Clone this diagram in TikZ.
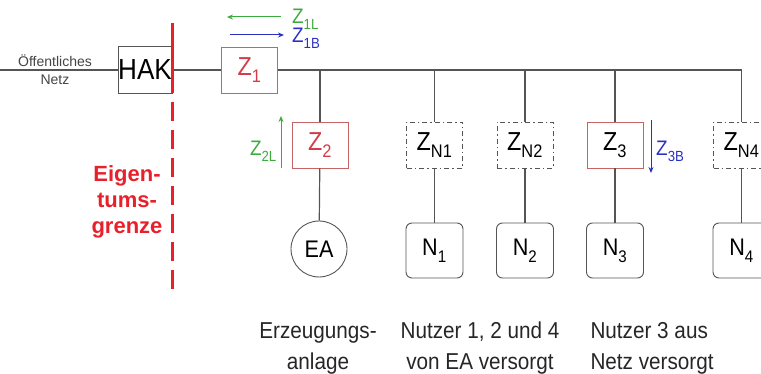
\documentclass[tikz,border=0pt]{standalone}
\usepackage{fontspec}
\setmainfont{Liberation Sans}[FakeStretch=0.9]
\newfontfamily\widefont{Liberation Sans}
\usetikzlibrary{arrows.meta}

\definecolor{netgray}{HTML}{555555}
\definecolor{zred}{HTML}{C46464}
\definecolor{textred}{HTML}{D23C46}
\definecolor{grenzred}{HTML}{E8202C}
\definecolor{zgreen}{HTML}{3CAA3C}
\definecolor{zblue}{HTML}{2A30C4}
\newcommand{\Zsub}[1]{Z\textsubscript{\raisebox{-0.2em}{#1}}}
\newcommand{\fs}[2]{\fontsize{#1}{#2}\selectfont}

\begin{document}
\begin{tikzpicture}[x=1pt,y=-1pt]
\clip (0,0) rectangle (761,374);

% Zaehler
\begin{scope}[every node/.style={draw=netgray,line width=0.9pt,minimum width=56pt,
              minimum height=46pt,inner sep=0pt,font=\fs{26}{26}}]
    \node (hak) at (145,70) [minimum width=54pt,minimum height=47pt,font=\fs{29}{29}] {HAK};
    \node (z1) at (249.5,70) [draw=zred,text=textred] {\Zsub{1}};
    \node (z2) at (320,145) [draw=zred,text=textred] {\Zsub{2}};
    \node (zn1) at (434.5,145) [dash pattern=on 5pt off 3pt on 1.5pt off 3pt] {\Zsub{N1}};
    \node (zn2) at (525,145) [dash pattern=on 5pt off 3pt on 1.5pt off 3pt] {\Zsub{N2}};
    \node (z3) at (615,145) [draw=zred] {\Zsub{3}};
    \node (zn4) at (741.5,145) [dash pattern=on 5pt off 3pt on 1.5pt off 3pt] {\Zsub{N4}};
\end{scope}

% Anlage und Nutzer
\begin{scope}[every node/.style={draw=netgray,line width=0.9pt,rounded corners=6pt,
              minimum width=57pt,minimum height=55pt,inner sep=0pt,font=\fs{24}{24}}]
    \node (ea) at (319,249) [circle,minimum size=56pt] {EA};
    \node (n1) at (434.5,250.5) {N\textsubscript{\raisebox{-0.2em}{1}}};
    \node (n2) at (525,250.5) {N\textsubscript{\raisebox{-0.2em}{2}}};
    \node (n3) at (615,250.5) {N\textsubscript{\raisebox{-0.2em}{3}}};
    \node (n4) at (741.5,250.5) {N\textsubscript{\raisebox{-0.2em}{4}}};
\end{scope}

\coordinate (netz) at (0,70);
\draw[netgray,line width=1.2pt] (netz) -- (hak.west) (hak.east) -- (z1.west)
    (z1.east) -| (zn4.north);
\draw[netgray,line width=1.2pt] (z2.north |- z1.east) -- (z2.north)
    (zn1.north |- z1.east) -- (zn1.north)
    (zn2.north |- z1.east) -- (zn2.north)
    (z3.north |- z1.east) -- (z3.north);
\foreach \a/\b in {z2/ea, zn1/n1, zn2/n2, z3/n3, zn4/n4}
    \draw[netgray,line width=1.2pt] (\a) -- (\b);

% Eigentumsgrenze
\coordinate (grenzeTop) at (172,23);
\coordinate (grenzeMid) at (172,93);
\coordinate (grenzeBot) at (172,292);
\draw[grenzred,line width=3pt] (grenzeTop) -- (grenzeMid);
\draw[grenzred,line width=3pt,dash pattern=on 19pt off 9pt,dash phase=19pt]
    (grenzeMid) -- (grenzeBot);
\node (grenze) at (127,202) [align=center,text=grenzred,font=\widefont\fs{22}{26}\bfseries]
    {Eigen-\\tums-\\grenze};

\node (oeffnetz) at (55,70) [align=center,font=\widefont\fs{14}{18},
    text=netgray!80!black] {Öffentliches\\Netz};

% Energiefluss
\coordinate (z1lA) at (281,17);
\coordinate (z1lB) at (227,17);
\coordinate (z1bA) at (230,35);
\coordinate (z1bB) at (284,35);
\coordinate (z2lA) at (281,168);
\coordinate (z2lB) at (281,116);
\coordinate (z3bA) at (651,120);
\coordinate (z3bB) at (651,173);
\begin{scope}[line width=1pt, >={Stealth[length=6pt,width=5pt]}]
    \path [->] (z1lA) edge[zgreen] (z1lB);
    \path [->] (z1bA) edge[zblue] (z1bB);
    \path [->] (z2lA) edge[zgreen] (z2lB);
    \path [->] (z3bA) edge[zblue] (z3bB);
\end{scope}
\begin{scope}[every node/.style={font=\fs{21}{21},inner sep=0pt}]
    \node (z1l) at (292,19) [anchor=west,text=zgreen] {\Zsub{1L}};
    \node (z1b) at (292,38) [anchor=west,text=zblue] {\Zsub{1B}};
    \node (z2l) at (277,151) [anchor=east,text=zgreen] {\Zsub{2L}};
    \node (z3b) at (656,151) [anchor=west,text=zblue] {\Zsub{3B}};
\end{scope}

% Beschriftung
\begin{scope}[every node/.style={font=\fs{23}{31},text=black!85}]
    \node (txtea) at (318,348) [align=center] {Erzeugungs-\\anlage};
    \node (txtn) at (480,348) [align=center] {Nutzer 1, 2 und 4\\von EA versorgt};
    \node (txtnetz) at (587,348) [align=left,anchor=west] {Nutzer 3 aus\\Netz versorgt};
\end{scope}
\end{tikzpicture}
\end{document}
